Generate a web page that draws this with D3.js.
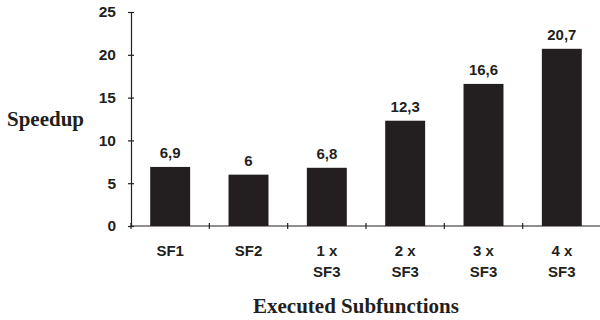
<!DOCTYPE html>
<html>
<head>
<meta charset="utf-8">
<script src="https://cdn.jsdelivr.net/npm/d3@7"></script>
<style>
  html, body { margin: 0; padding: 0; background: #fff; }
  svg { display: block; }
</style>
</head>
<body>
<svg id="chart" width="600" height="320"></svg>
<script>
const categories = [["SF1"], ["SF2"], ["1 x", "SF3"], ["2 x", "SF3"], ["3 x", "SF3"], ["4 x", "SF3"]];
const speedups = [6.9, 6, 6.8, 12.3, 16.6, 20.7];
const valueLabels = ["6,9", "6", "6,8", "12,3", "16,6", "20,7"];
const yTicks = [0, 5, 10, 15, 20, 25];
const yTitle = "Speedup";
const xTitle = "Executed Subfunctions";

(function () {
const ink = "#231f20";
const sans = "Liberation Sans, Arial, sans-serif";
const serif = "Liberation Serif, Times New Roman, serif";
const svg = d3.select("#chart");
const mLeft = 131, mRight = 601, mTop = 12, mBottom = 226;

const x = d3.scaleBand().domain(d3.range(categories.length)).range([mLeft, mRight]).paddingInner(0.49).paddingOuter(0.245);
const xAxisBand = d3.scaleBand().domain(d3.range(categories.length)).range([mLeft, mRight]);
const y = d3.scaleLinear().domain([0, 25]).range([mBottom, mTop]);

// Bars
svg.append("g").selectAll("rect").data(speedups).join("rect")
  .attr("x", (d, i) => x(i))
  .attr("width", x.bandwidth())
  .attr("y", d => y(d))
  .attr("height", d => y(0) - y(d))
  .attr("fill", ink);

// Y axis
const yAxis = svg.append("g").attr("transform", `translate(${mLeft},0)`)
  .call(d3.axisLeft(y).tickValues(yTicks).tickSizeInner(3).tickSizeOuter(0).tickPadding(12));
yAxis.select(".domain").attr("stroke", ink).attr("stroke-width", 1.2);
yAxis.selectAll(".tick line").attr("x2", 3).attr("x1", -3).attr("stroke", ink).attr("stroke-width", 1.2);
yAxis.selectAll(".tick text")
  .attr("font-family", sans)
  .attr("font-weight", "bold").attr("font-size", 15.5).attr("fill", ink);

// X axis line + ticks at band boundaries
svg.append("line").attr("x1", mLeft).attr("x2", 600).attr("y1", mBottom).attr("y2", mBottom)
  .attr("stroke", ink).attr("stroke-width", 1.2);
svg.append("g").selectAll("line").data(d3.range(categories.length)).join("line")
  .attr("x1", i => xAxisBand(i)).attr("x2", i => xAxisBand(i))
  .attr("y1", mBottom - 3).attr("y2", mBottom + 3)
  .attr("stroke", ink).attr("stroke-width", 1.2);

// Category labels
const catG = svg.append("g").selectAll("text").data(categories).join("text")
  .attr("x", (d, i) => x(i) + x.bandwidth() / 2)
  .attr("y", 255.5)
  .attr("text-anchor", "middle")
  .attr("font-family", sans)
  .attr("font-weight", "bold").attr("font-size", 15).attr("fill", ink);
catG.selectAll("tspan").data(d => d).join("tspan")
  .attr("x", function() { return d3.select(this.parentNode).attr("x"); })
  .attr("dy", (d, j) => j === 0 ? 0 : 21.5)
  .text(d => d);

// Value labels
svg.append("g").selectAll("text").data(speedups).join("text")
  .attr("x", (d, i) => x(i) + x.bandwidth() / 2)
  .attr("y", d => y(d) - 9)
  .attr("text-anchor", "middle")
  .attr("font-family", sans)
  .attr("font-weight", "bold").attr("font-size", 15).attr("fill", ink)
  .text((d, i) => valueLabels[i]);

// Titles
svg.append("text").attr("x", 45.5).attr("y", 126).attr("text-anchor", "middle")
  .attr("font-family", serif)
  .attr("font-weight", "bold").attr("font-size", 21).attr("fill", ink)
  .text(yTitle);
svg.append("text").attr("x", 356).attr("y", 312.5).attr("text-anchor", "middle")
  .attr("font-family", serif)
  .attr("font-weight", "bold").attr("font-size", 21).attr("fill", ink)
  .text(xTitle);
})();
</script>
</body>
</html>
